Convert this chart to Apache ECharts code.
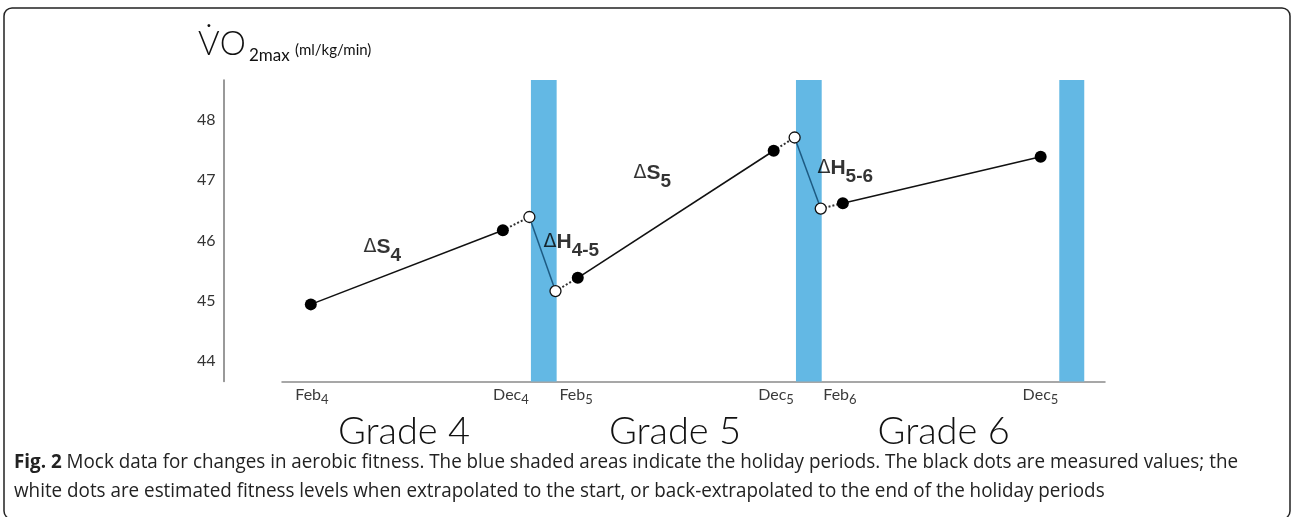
<!DOCTYPE html>
<html><head><meta charset="utf-8">
<script src="https://cdn.jsdelivr.net/npm/echarts@6/dist/echarts.min.js"></script>
<style>html,body{margin:0;padding:0;background:#fff}#c{width:1292px;height:517px}</style>
</head><body><div id="c"></div>
<script>
// x: continuous school timeline in months, y: VO2max (ml/kg/min)
const measuredX = [1.0, 11.0, 14.9, 25.1, 28.7, 39.0];
const measuredY = [44.94, 46.17, 45.38, 47.49, 46.62, 47.39];
const estimatedX = [12.38, 13.74, 26.19, 27.55];
const estimatedY = [46.39, 45.16, 47.71, 46.53];
const holidayStart = [12.46, 26.26, 39.97];
const holidayEnd = [13.80, 27.60, 41.27];
const tickPos = [1.06, 11.42, 14.81, 25.22, 28.55, 38.99];
const tickMonth = ['Feb', 'Dec', 'Feb', 'Dec', 'Feb', 'Dec'];
const tickSub = ['4', '4', '5', '5', '6', '5'];
const gradePos = [5.85, 19.96, 33.95];
const gradeNames = ['Grade 4', 'Grade 5', 'Grade 6'];
const yTicks = [44, 45, 46, 47, 48];
const deltaX = [3.72, 13.09, 17.77, 27.35];
const deltaY = [45.89, 45.975, 47.12, 47.195];
const deltaMain = ['S', 'H', 'S', 'H'];
const deltaSub = ['4', '4-5', '5', '5-6'];
const captionBold = 'Fig. 2';
const captionLine1 = 'Mock data for changes in aerobic fitness. The blue shaded areas indicate the holiday periods. The black dots are measured values; the';
const captionLine2 = 'white dots are estimated fitness levels when extrapolated to the start, or back-extrapolated to the end of the holiday periods';

const M = measuredX.map((x, i) => [x, measuredY[i]]);
const E = estimatedX.map((x, i) => [x, estimatedY[i]]);
const solidSegs = [[M[0], M[1]], [M[2], M[3]], [M[4], M[5]]];
const dottedSegs = [[M[1], E[0]], [E[1], M[2]], [M[3], E[2]], [E[3], M[4]]];
const holidaySegs = [[E[0], E[1]], [E[2], E[3]]];

const axisFont = "Lato, 'Noto Sans', sans-serif";
const capFont = "'Open Sans', 'Noto Sans', sans-serif";
const capSize = 20;
const ctx = document.createElement('canvas').getContext('2d');
function measure(t, w) { ctx.font = w + ' ' + capSize + 'px ' + capFont; return ctx.measureText(t).width; }
const w1 = measure(captionBold, 'bold') + measure(' ' + captionLine1, 'normal');
const capStart = 14;
const sx = (1238 - capStart) / w1;

const chart = echarts.init(document.getElementById('c'));
const option = {
  backgroundColor: '#fff',
  animation: false,
  grid: { left: 282, right: 187, top: 80, bottom: 135.5 },
  xAxis: [{
    type: 'value', min: -0.5, max: 42.35,
    axisLine: { show: true, onZero: false, lineStyle: { color: '#8a8a8a', width: 1.5 } },
    axisTick: { show: false }, splitLine: { show: false },
    axisLabel: {
      customValues: tickPos, margin: 1,
      formatter: v => { const i = tickPos.indexOf(v); return '{m|' + tickMonth[i] + '}{s|' + tickSub[i] + '}'; },
      rich: {
        m: { fontFamily: axisFont, fontSize: 16, color: '#3a3a3a', lineHeight: 24 },
        s: { fontFamily: axisFont, fontSize: 13, color: '#3a3a3a', lineHeight: 9, verticalAlign: 'bottom' }
      }
    }
  }, {
    type: 'value', min: -0.5, max: 42.35, position: 'bottom', offset: 30,
    axisLine: { show: false, onZero: false }, axisTick: { show: false }, splitLine: { show: false },
    axisLabel: {
      customValues: gradePos, margin: 0,
      formatter: v => gradeNames[gradePos.indexOf(v)],
      fontFamily: axisFont, fontWeight: 300, fontSize: 38, color: '#111', lineHeight: 40
    }
  }],
  yAxis: {
    type: 'value', min: 43.66, max: 48.664, offset: 58.5,
    axisLine: { show: true, onZero: false, lineStyle: { color: '#777', width: 1.5 } },
    axisTick: { show: false }, splitLine: { show: false },
    axisLabel: { customValues: yTicks, margin: 8, color: '#333', fontSize: 16, fontFamily: axisFont }
  },
  series: [{
    type: 'line', name: 'holiday', data: [], z: 1, silent: true,
    markArea: {
      silent: true, itemStyle: { color: '#63b8e4' },
      data: holidayStart.map((s, i) => [{ xAxis: s }, { xAxis: holidayEnd[i] }])
    }
  }, {
    type: 'lines', coordinateSystem: 'cartesian2d', z: 3, silent: true,
    lineStyle: { color: '#111', width: 1.6, opacity: 1 },
    data: solidSegs.map(c => ({ coords: c }))
  }, {
    type: 'lines', coordinateSystem: 'cartesian2d', z: 3, silent: true,
    lineStyle: { color: '#333', width: 2, type: [2, 2], opacity: 1 },
    data: dottedSegs.map(c => ({ coords: c }))
  }, {
    type: 'lines', coordinateSystem: 'cartesian2d', z: 3, silent: true,
    lineStyle: { color: '#1d5a82', width: 1.5, opacity: 1 },
    data: holidaySegs.map(c => ({ coords: c }))
  }, {
    type: 'scatter', z: 5, symbolSize: 12, silent: true,
    itemStyle: { color: '#000', opacity: 1 }, data: M
  }, {
    type: 'scatter', z: 5, symbolSize: 11, silent: true,
    itemStyle: { color: '#fff', borderColor: '#111', borderWidth: 1.3, opacity: 1 }, data: E
  }, {
    type: 'scatter', z: 6, symbolSize: 1, silent: true,
    itemStyle: { color: 'transparent' },
    data: deltaX.map((x, i) => [x, deltaY[i]]),
    label: {
      show: true, position: 'right', distance: 0,
      formatter: p => '{d|\u0394}{m|' + deltaMain[p.dataIndex] + '}{s|' + deltaSub[p.dataIndex] + '}',
      rich: {
        d: { fontFamily: "'DejaVu Sans'", fontSize: 19, color: '#000', lineHeight: 36 },
        m: { fontFamily: "'Liberation Sans', Arial", fontWeight: 'bold', fontSize: 21, color: '#000', lineHeight: 36 },
        s: { fontFamily: "'Liberation Sans', Arial", fontWeight: 'bold', fontSize: 19, color: '#000', lineHeight: 15, verticalAlign: 'bottom' }
      }
    }
  }],
  graphic: [
    { type: 'rect', silent: true, shape: { x: 4, y: 8, width: 1286, height: 511, r: 8 }, style: { fill: 'none', stroke: '#222', lineWidth: 1.5 } },
    { type: 'text', x: 198, y: 44, style: { text: 'V\u0307O', fontFamily: axisFont, fontWeight: 300, fontSize: 33, fill: '#111', verticalAlign: 'middle' } },
    { type: 'text', x: 249, y: 56, style: { text: '2max', fontFamily: axisFont, fontSize: 17, fill: '#111', verticalAlign: 'middle' } },
    { type: 'text', x: 295, y: 50, style: { text: '(ml/kg/min)', fontFamily: axisFont, fontSize: 15, fill: '#111', verticalAlign: 'middle' } },
    { type: 'text', x: capStart, y: 462, scaleX: sx, style: { text: '{b|' + captionBold + '} ' + captionLine1, fontFamily: capFont, fontSize: capSize, fill: '#222', verticalAlign: 'middle',
        rich: { b: { fontFamily: capFont, fontSize: capSize, fontWeight: 'bold', fill: '#222' } } } },
    { type: 'text', x: capStart, y: 491, scaleX: sx, style: { text: captionLine2, fontFamily: capFont, fontSize: capSize, fill: '#222', verticalAlign: 'middle' } }
  ]
};
chart.setOption(option);
</script>
</body></html>
